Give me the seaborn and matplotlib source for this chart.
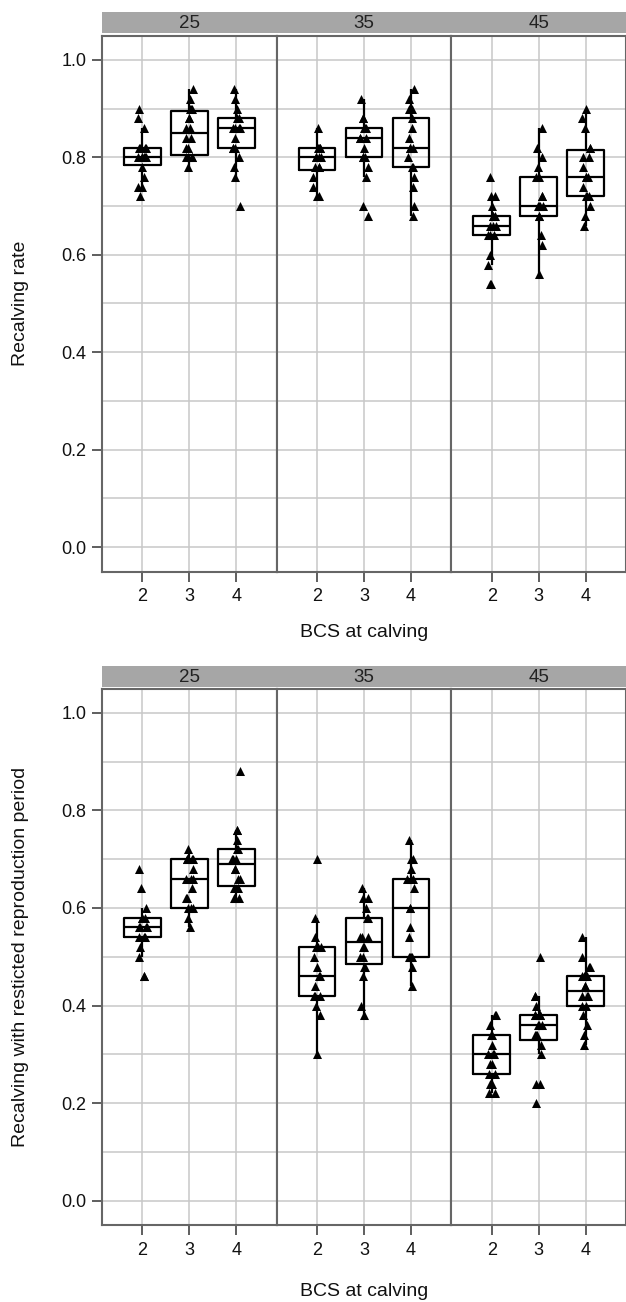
import numpy as np
import pandas as pd
import seaborn as sns
import matplotlib.pyplot as plt

bcs_levels = [2, 3, 4]
weight_levels = ["25", "35", "45"]

# recalving rate, one list per BCS level (2, 3, 4) inside each weight facet
rr_25 = [
    [0.72, 0.74, 0.74, 0.76, 0.78, 0.80, 0.80, 0.80, 0.80, 0.80, 0.80, 0.82, 0.82, 0.82, 0.82, 0.86, 0.88, 0.90],
    [0.78, 0.80, 0.80, 0.80, 0.80, 0.82, 0.82, 0.84, 0.84, 0.86, 0.86, 0.88, 0.88, 0.90, 0.90, 0.90, 0.92, 0.94],
    [0.70, 0.76, 0.78, 0.80, 0.82, 0.82, 0.82, 0.84, 0.86, 0.86, 0.86, 0.86, 0.88, 0.88, 0.90, 0.92, 0.94],
]
rr_35 = [
    [0.72, 0.72, 0.74, 0.76, 0.78, 0.78, 0.78, 0.80, 0.80, 0.80, 0.80, 0.82, 0.82, 0.82, 0.82, 0.86],
    [0.68, 0.70, 0.76, 0.78, 0.80, 0.80, 0.80, 0.82, 0.84, 0.84, 0.84, 0.86, 0.86, 0.86, 0.88, 0.88, 0.92],
    [0.68, 0.70, 0.74, 0.76, 0.78, 0.78, 0.80, 0.82, 0.82, 0.82, 0.84, 0.86, 0.88, 0.90, 0.90, 0.92, 0.94],
]
rr_45 = [
    [0.54, 0.54, 0.58, 0.60, 0.64, 0.64, 0.64, 0.66, 0.66, 0.66, 0.68, 0.68, 0.68, 0.70, 0.72, 0.72, 0.76],
    [0.56, 0.62, 0.64, 0.68, 0.68, 0.70, 0.70, 0.70, 0.70, 0.72, 0.72, 0.76, 0.76, 0.78, 0.80, 0.82, 0.86],
    [0.66, 0.68, 0.70, 0.72, 0.72, 0.72, 0.74, 0.76, 0.76, 0.76, 0.78, 0.80, 0.80, 0.82, 0.82, 0.86, 0.88, 0.90],
]

# recalving with restricted reproduction period
rp_25 = [
    [0.46, 0.46, 0.50, 0.52, 0.54, 0.54, 0.54, 0.56, 0.56, 0.56, 0.56, 0.58, 0.58, 0.58, 0.60, 0.64, 0.68],
    [0.56, 0.58, 0.60, 0.60, 0.60, 0.62, 0.62, 0.64, 0.66, 0.66, 0.66, 0.68, 0.70, 0.70, 0.70, 0.70, 0.72],
    [0.62, 0.62, 0.62, 0.64, 0.64, 0.66, 0.66, 0.68, 0.68, 0.70, 0.70, 0.70, 0.72, 0.72, 0.74, 0.76, 0.76, 0.88],
]
rp_35 = [
    [0.30, 0.38, 0.40, 0.42, 0.42, 0.42, 0.44, 0.46, 0.46, 0.48, 0.50, 0.52, 0.52, 0.52, 0.54, 0.58, 0.70],
    [0.38, 0.40, 0.46, 0.48, 0.48, 0.50, 0.50, 0.52, 0.52, 0.54, 0.54, 0.54, 0.58, 0.58, 0.60, 0.62, 0.62, 0.64],
    [0.44, 0.48, 0.50, 0.50, 0.50, 0.50, 0.54, 0.56, 0.60, 0.60, 0.64, 0.66, 0.66, 0.66, 0.68, 0.70, 0.70, 0.74],
]
rp_45 = [
    [0.22, 0.22, 0.24, 0.24, 0.26, 0.26, 0.28, 0.28, 0.30, 0.30, 0.30, 0.32, 0.34, 0.34, 0.36, 0.38, 0.38],
    [0.20, 0.24, 0.24, 0.30, 0.32, 0.34, 0.34, 0.34, 0.36, 0.36, 0.36, 0.38, 0.38, 0.38, 0.38, 0.40, 0.42, 0.42, 0.50],
    [0.32, 0.34, 0.36, 0.38, 0.40, 0.40, 0.42, 0.42, 0.42, 0.44, 0.44, 0.46, 0.46, 0.46, 0.48, 0.48, 0.50, 0.54],
]

sns.set_theme(style="whitegrid")
plt.rcParams['font.family'] = ['Liberation Sans', 'DejaVu Sans']


def long_frame(panels):
    rows = []
    for w, groups in zip(weight_levels, panels):
        for b, vals in zip(bcs_levels, groups):
            for v in vals:
                rows.append((w, b, v))
    return pd.DataFrame(rows, columns=["weight", "bcs", "value"])


df_top = long_frame([rr_25, rr_35, rr_45])
df_bot = long_frame([rp_25, rp_35, rp_45])

W, H = 626, 1302
fig = plt.figure(figsize=(W / 100, H / 100), dpi=100)
left0, pw = 102, 174.7
spine_col = "#666666"
grid_col = "#c8c8c8"
text_col = "#111111"

# (axes top, axes bottom, data, y label, strip top, strip bottom, x label y)
rows = [
    (35.5, 571.5, df_top, "Recalving rate", 12, 33, 632),
    (688.5, 1225, df_bot, "Recalving with resticted reproduction period", 665.5, 686.5, 1291),
]

np.random.seed(11)  # stable jitter
for ytop, ybot, df, ylab, s_top, s_bot, xlab_y in rows:
    for i, w in enumerate(weight_levels):
        x0 = left0 + i * pw
        ax = fig.add_axes([x0 / W, 1 - ybot / H, pw / W, (ybot - ytop) / H])
        sub = df[df.weight == w]
        sns.boxplot(data=sub, x="bcs", y="value", order=bcs_levels, ax=ax,
                    width=0.78, fill=False, color="black", linecolor="black",
                    linewidth=1.6, whis=1.5, showfliers=False, showcaps=False)
        sns.stripplot(data=sub, x="bcs", y="value", order=bcs_levels, ax=ax,
                      jitter=0.09, marker="^", size=6.5, color="black", linewidth=0)
        ax.set_xlim(-0.86, 2.86)
        ax.set_ylim(-0.05, 1.05)
        ax.set_yticks(np.arange(0, 1.01, 0.2))
        ax.set_yticks(np.arange(0.1, 1.0, 0.2), minor=True)
        ax.set_xticks(range(3))
        ax.set_xticklabels([str(b) for b in bcs_levels])
        ax.grid(True, which="both", axis="y", color=grid_col, lw=1.1)
        ax.grid(True, which="major", axis="x", color=grid_col, lw=1.1)
        ax.set_axisbelow(True)
        ax.set_xlabel("")
        ax.set_ylabel("")
        for sp in ax.spines.values():
            sp.set_visible(True)
            sp.set_color(spine_col)
            sp.set_linewidth(1.5)
        ax.tick_params(axis="x", which="major", direction="out", length=7, width=1.1,
                       color="#333333", labelsize=13, labelcolor=text_col, pad=5, bottom=True)
        ax.tick_params(axis="y", which="minor", length=0, left=False)
        if i == 0:
            ax.tick_params(axis="y", which="major", direction="out", length=7, width=1.1,
                           color="#333333", labelsize=13, labelcolor=text_col, pad=4, left=True)
            ax.set_yticklabels([f"{v:.1f}" for v in np.arange(0, 1.01, 0.2)])
        else:
            ax.tick_params(axis="y", which="major", length=0, labelleft=False)

        # facet strip
        sax = fig.add_axes([x0 / W, 1 - s_bot / H, pw / W, (s_bot - s_top) / H])
        sax.set_facecolor("#a6a6a6")
        sax.set_xticks([])
        sax.set_yticks([])
        for sp in sax.spines.values():
            sp.set_visible(False)
        sax.text(0.5, 0.45, w, ha="center", va="center", fontsize=13.5,
                 color="#222222", transform=sax.transAxes)

    fig.text((left0 + 1.5 * pw) / W, 1 - xlab_y / H, "BCS at calving",
             ha="center", va="center", fontsize=14, color=text_col)
    fig.text(21 / W, 1 - (ytop + ybot) / 2 / H, ylab, rotation=90,
             ha="center", va="center", fontsize=14, color=text_col)

fig.savefig("out.png", dpi=100, facecolor="white")
